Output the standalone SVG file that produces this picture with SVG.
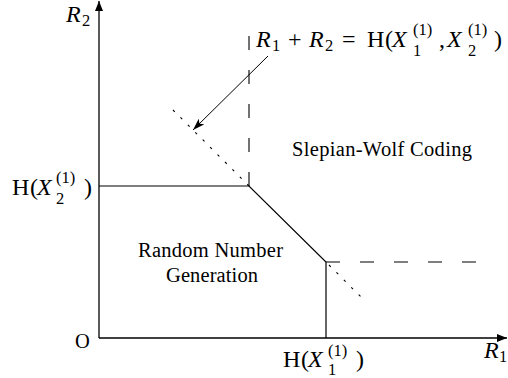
<svg xmlns="http://www.w3.org/2000/svg" width="508" height="378" viewBox="0 0 508 378">
<defs>
<style>
.ln{stroke:#000;fill:none;stroke-width:1.2}
.ax{stroke:#000;fill:none;stroke-width:1.3}
.dash{stroke:#000;fill:none;stroke-width:1.1;stroke-dasharray:14 20}
.dot{stroke:#000;fill:none;stroke-width:1.1;stroke-dasharray:2.5 8}
text{font-family:"Liberation Serif","Times New Roman",serif;fill:#000}
.t{font-size:20.5px}
.m{font-size:24px}
.i{font-style:italic}
.s{font-size:16.5px}
</style>
<marker id="ah" viewBox="0 0 10 8" refX="10" refY="4" markerWidth="10" markerHeight="8" markerUnits="userSpaceOnUse" orient="auto">
<path d="M0,0 L10,4 L0,8 Z" fill="#000"/>
</marker>
<marker id="ah2" viewBox="0 0 12 8" refX="12" refY="4" markerWidth="12" markerHeight="8" markerUnits="userSpaceOnUse" orient="auto">
<path d="M0,0 L12,4 L0,8 L3,4 Z" fill="#000"/>
</marker>
</defs>
<g id="connectors">
<line id="y-axis" class="ax" x1="99" y1="338" x2="99" y2="1" marker-end="url(#ah)"/>
<line id="x-axis" class="ax" x1="99" y1="338" x2="507" y2="338" marker-end="url(#ah)"/>
<polyline id="boundary" class="ln" points="99,186 249,186 326,262 326,338"/>
<line class="dash" x1="249" y1="36" x2="249" y2="186"/>
<line class="dash" x1="326" y1="262" x2="478" y2="262"/>
<line class="dot" x1="173" y1="110" x2="249" y2="186"/>
<line class="dot" x1="329" y1="265" x2="364" y2="300"/>
<line id="pointer" stroke="#000" stroke-width="1" x1="268" y1="56" x2="193" y2="130" marker-end="url(#ah2)"/>
</g>
<g id="label-R2"><text class="m i" x="66" y="22">R<tspan class="s" font-style="normal" x="82" y="26">2</tspan></text></g>
<g id="label-R1"><text class="m i" x="484" y="358">R<tspan class="s" font-style="normal" x="499" y="362">1</tspan></text></g>
<g id="label-O"><text class="t" x="75" y="348">O</text></g>
<g id="label-HX2">
<text class="m" x="12" y="195">H</text>
<text class="m" x="30" y="195">(</text>
<text class="m i" x="37" y="195">X</text>
<text class="m s" x="56" y="183">(1)</text>
<text class="m s" x="56" y="204">2</text>
<text class="m" x="84" y="195">)</text>
</g>
<g id="label-HX1">
<text class="m" x="283" y="367">H</text>
<text class="m" x="301" y="367">(</text>
<text class="m i" x="308" y="367">X</text>
<text class="m s" x="328" y="356">(1)</text>
<text class="m s" x="328" y="375">1</text>
<text class="m" x="356" y="367">)</text>
</g>
<g id="label-sum">
<text class="m i" x="256" y="47">R</text>
<text class="m s" x="272" y="51">1</text>
<text class="m" x="288" y="47">+</text>
<text class="m i" x="309" y="47">R</text>
<text class="m s" x="325" y="51">2</text>
<text class="m" x="342" y="47">=</text>
<text class="m" x="367" y="47">H</text>
<text class="m" x="385" y="47">(</text>
<text class="m i" x="392" y="47">X</text>
<text class="m s" x="413" y="35">(1)</text>
<text class="m s" x="413" y="56">1</text>
<text class="m" x="439" y="47">,</text>
<text class="m i" x="447" y="47">X</text>
<text class="m s" x="468" y="35">(1)</text>
<text class="m s" x="468" y="56">2</text>
<text class="m" x="494" y="47">)</text>
</g>
<g id="region-sw"><text class="t" x="292" y="156" textLength="180" lengthAdjust="spacing">Slepian-Wolf Coding</text></g>
<g id="region-rng">
<text class="t" x="138" y="257" textLength="145" lengthAdjust="spacing">Random Number</text>
<text class="t" x="166" y="282" textLength="92" lengthAdjust="spacing">Generation</text>
</g>
</svg>
